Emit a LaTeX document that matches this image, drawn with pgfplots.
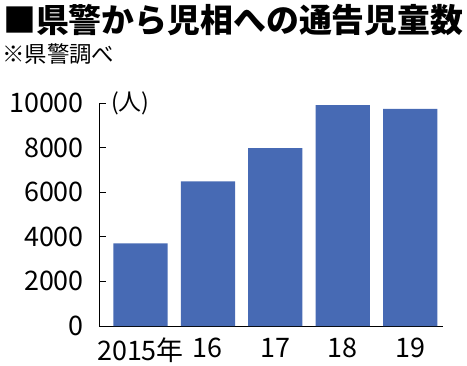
\documentclass[border=0pt]{standalone}
\usepackage{pgfplots}
\pgfplotsset{compat=1.18}
\usepackage{fontspec}
\setmainfont{Noto Sans CJK JP}
\definecolor{barblue}{RGB}{71,106,180}
\begin{document}
\begin{tikzpicture}
\useasboundingbox (0,0) rectangle (467bp,366bp);
\node[anchor=west, inner sep=0pt, font=\fontsize{33}{36}\selectfont\bfseries] at (3bp,346bp) {■県警から児相への通告児童数};
\node[anchor=west, inner sep=0pt, font=\fontsize{22.5}{25}\selectfont] at (2bp,312bp) {※県警調べ};
\begin{axis}[
  at={(99bp,40bp)}, anchor=south west,
  scale only axis,
  width=344bp, height=223bp,
  xmin=-0.615, xmax=4.486,
  ymin=0, ymax=10000,
  axis x line*=bottom, axis y line*=left,
  x axis line style={-}, y axis line style={-},
  axis line style={line width=1pt},
  xtick=data,
  xticklabels={2015年,16,17,18,19},
  ytick={0,2000,...,10000},
  scaled y ticks=false,
  /pgf/number format/assume math mode=true,
  yticklabel={\pgfmathprintnumber[fixed,1000 sep={}]{\tick}},
  tick align=inside,
  major tick length=7bp,
  x tick style={draw=none},
  y tick style={line width=0.8pt, black},
  tick label style={font=\fontsize{27}{30}\selectfont, inner sep=0pt},
  yticklabel style={xshift=-15bp},
  xticklabel style={yshift=-12bp},
  clip=false,
]
\addplot[ybar, bar width=0.805, fill=barblue, draw=none] coordinates {(0,3710) (1,6490) (2,7980) (3,9900) (4,9740)};
\node[anchor=west, inner sep=0pt, font=\fontsize{23}{26}\selectfont] at (axis cs:-0.615,10000) {\hspace{12bp}(人)};
\end{axis}
\end{tikzpicture}
\end{document}
